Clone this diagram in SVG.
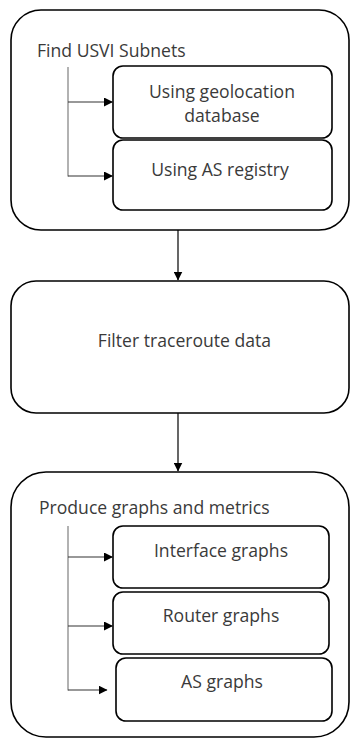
<svg xmlns="http://www.w3.org/2000/svg" width="351" height="742" viewBox="0 0 351 742">
<defs>
<marker id="ah" markerWidth="9" markerHeight="9" refX="8.5" refY="4.5" orient="auto" markerUnits="userSpaceOnUse">
<path d="M0,0 L9,4.5 L0,9 Z" fill="#000"/>
</marker>
</defs>
<style>
.outer{fill:#fff;stroke:#000;stroke-width:1.6}
.inner{fill:#fff;stroke:#000;stroke-width:1.6}
.t{font-family:"Open Sans","Liberation Sans",sans-serif;font-size:17.6px;fill:#3a3a3a}
.c{text-anchor:middle}
.main{stroke:#000;stroke-width:1.2;fill:none}
.br{stroke:#7f7f7f;stroke-width:1.2;fill:none}
.ar{stroke:#333;stroke-width:1.2;fill:none}
</style>
<rect width="351" height="742" fill="#fff"/>
<g id="find-subnets">
<rect class="outer" x="11" y="10" width="338" height="220" rx="30" ry="30"/>
<text class="t" x="37" y="56.5">Find USVI Subnets</text>
</g>
<g id="geolocation">
<rect class="inner" x="113" y="66" width="219" height="72" rx="10" ry="10"/>
<text class="t c" x="222" y="97.5">Using geolocation</text>
<text class="t c" x="222" y="121.5">database</text>
</g>
<g id="as-registry">
<rect class="inner" x="113" y="140" width="219" height="70" rx="10" ry="10"/>
<text class="t c" x="220" y="175.5">Using AS registry</text>
</g>
<g id="filter">
<rect class="outer" x="11" y="281" width="338" height="132" rx="25" ry="25"/>
<text class="t c" x="184.5" y="346.5">Filter traceroute data</text>
</g>
<g id="produce">
<rect class="outer" x="11" y="472" width="338" height="265" rx="35" ry="35"/>
<text class="t" x="39" y="514">Produce graphs and metrics</text>
</g>
<g id="interface">
<rect class="inner" x="113" y="526" width="216" height="62" rx="10" ry="10"/>
<text class="t c" x="221" y="557">Interface graphs</text>
</g>
<g id="router">
<rect class="inner" x="113" y="592" width="216" height="62" rx="10" ry="10"/>
<text class="t c" x="221" y="622">Router graphs</text>
</g>
<g id="as-graphs">
<rect class="inner" x="116" y="658" width="216" height="63" rx="10" ry="10"/>
<text class="t c" x="222" y="688">AS graphs</text>
</g>
<g id="connectors">
<line class="main" x1="178" y1="230" x2="178" y2="280" marker-end="url(#ah)"/>
<line class="main" x1="178" y1="413" x2="178" y2="471" marker-end="url(#ah)"/>
<line class="br" x1="68" y1="67" x2="68" y2="176.5"/>
<line class="ar" x1="68" y1="102" x2="112.5" y2="102" marker-end="url(#ah)"/>
<line class="ar" x1="68" y1="176" x2="112.5" y2="176" marker-end="url(#ah)"/>
<line class="br" x1="68" y1="526" x2="68" y2="690.5"/>
<line class="ar" x1="68" y1="557" x2="112.5" y2="557" marker-end="url(#ah)"/>
<line class="ar" x1="68" y1="626" x2="112.5" y2="626" marker-end="url(#ah)"/>
<line class="ar" x1="68" y1="690" x2="107" y2="690" marker-end="url(#ah)"/>
</g>
</svg>
